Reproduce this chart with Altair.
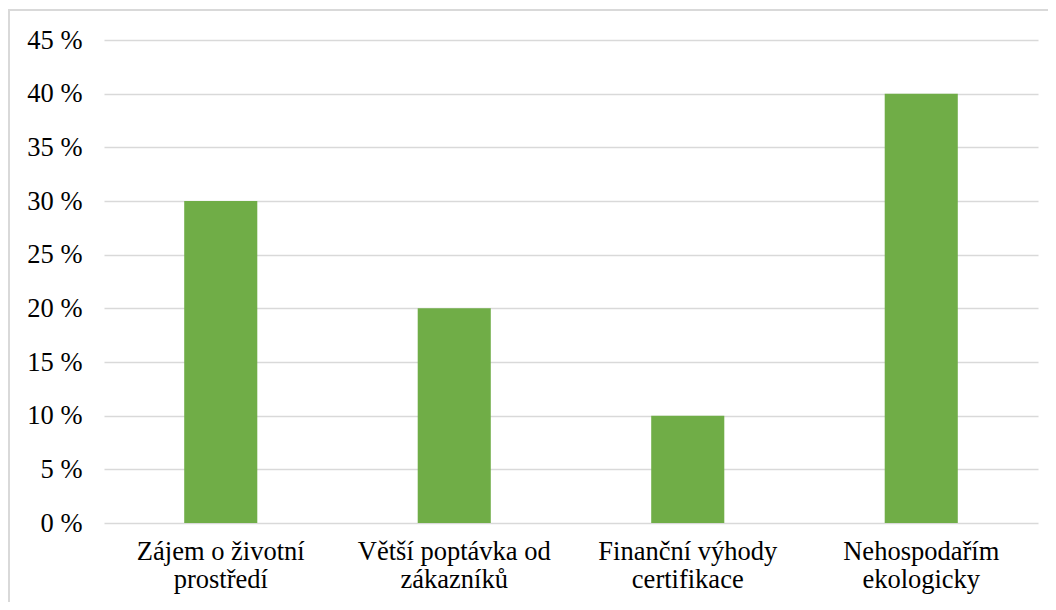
import altair as alt
import pandas as pd

categories = [
    "Zájem o životní\nprostředí",
    "Větší poptávka od\nzákazníků",
    "Finanční výhody\ncertifikace",
    "Nehospodařím\nekologicky",
]
values = [30, 20, 10, 40]
y_ticks = [0, 5, 10, 15, 20, 25, 30, 35, 40, 45]

df = pd.DataFrame({"cat": categories, "val": values})

FONT = "Liberation Serif"

bars = alt.Chart(df).mark_bar(color="#70AD47").encode(
    x=alt.X(
        "cat:N",
        sort=None,
        title=None,
        scale=alt.Scale(paddingInner=0.687, paddingOuter=0.3435),
        axis=alt.Axis(
            labelAngle=0,
            labelExpr="split(datum.label, '\\n')",
            labelFontSize=26.5,
            labelColor="#000000",
            labelPadding=15,
            labelLineHeight=28,
            labelLimit=400,
            ticks=False,
            domain=False,
            grid=False,
            labelBaseline="top",
        ),
    ),
    y=alt.Y(
        "val:Q",
        title=None,
        scale=alt.Scale(domain=[0, 45], nice=False),
        axis=alt.Axis(
            values=y_ticks,
            labelExpr="datum.value + ' %'",
            labelFontSize=26.5,
            labelColor="#000000",
            labelPadding=22,
            ticks=False,
            domain=False,
            grid=True,
            gridColor="#D9D9D9",
            gridWidth=1.5,
        ),
    ),
)

border = alt.Chart(df).mark_rect(
    fill=None, stroke="#D9D9D9", strokeWidth=1.5
).encode(
    x=alt.value(-95),
    x2=alt.value(960),
    y=alt.value(-30),
    y2=alt.value(600),
)

chart = (
    alt.layer(border, bars)
    .properties(
        width=934,
        height=483,
        padding={"left": 96, "top": 32, "right": 10, "bottom": 79},
        autosize=alt.AutoSizeParams(type="none"),
    )
    .configure(background="white", font=FONT)
    .configure_axis(labelFont=FONT)
    .configure_view(stroke=None)
)

chart.save("out.html", embed_options={"renderer": "svg", "actions": False})
